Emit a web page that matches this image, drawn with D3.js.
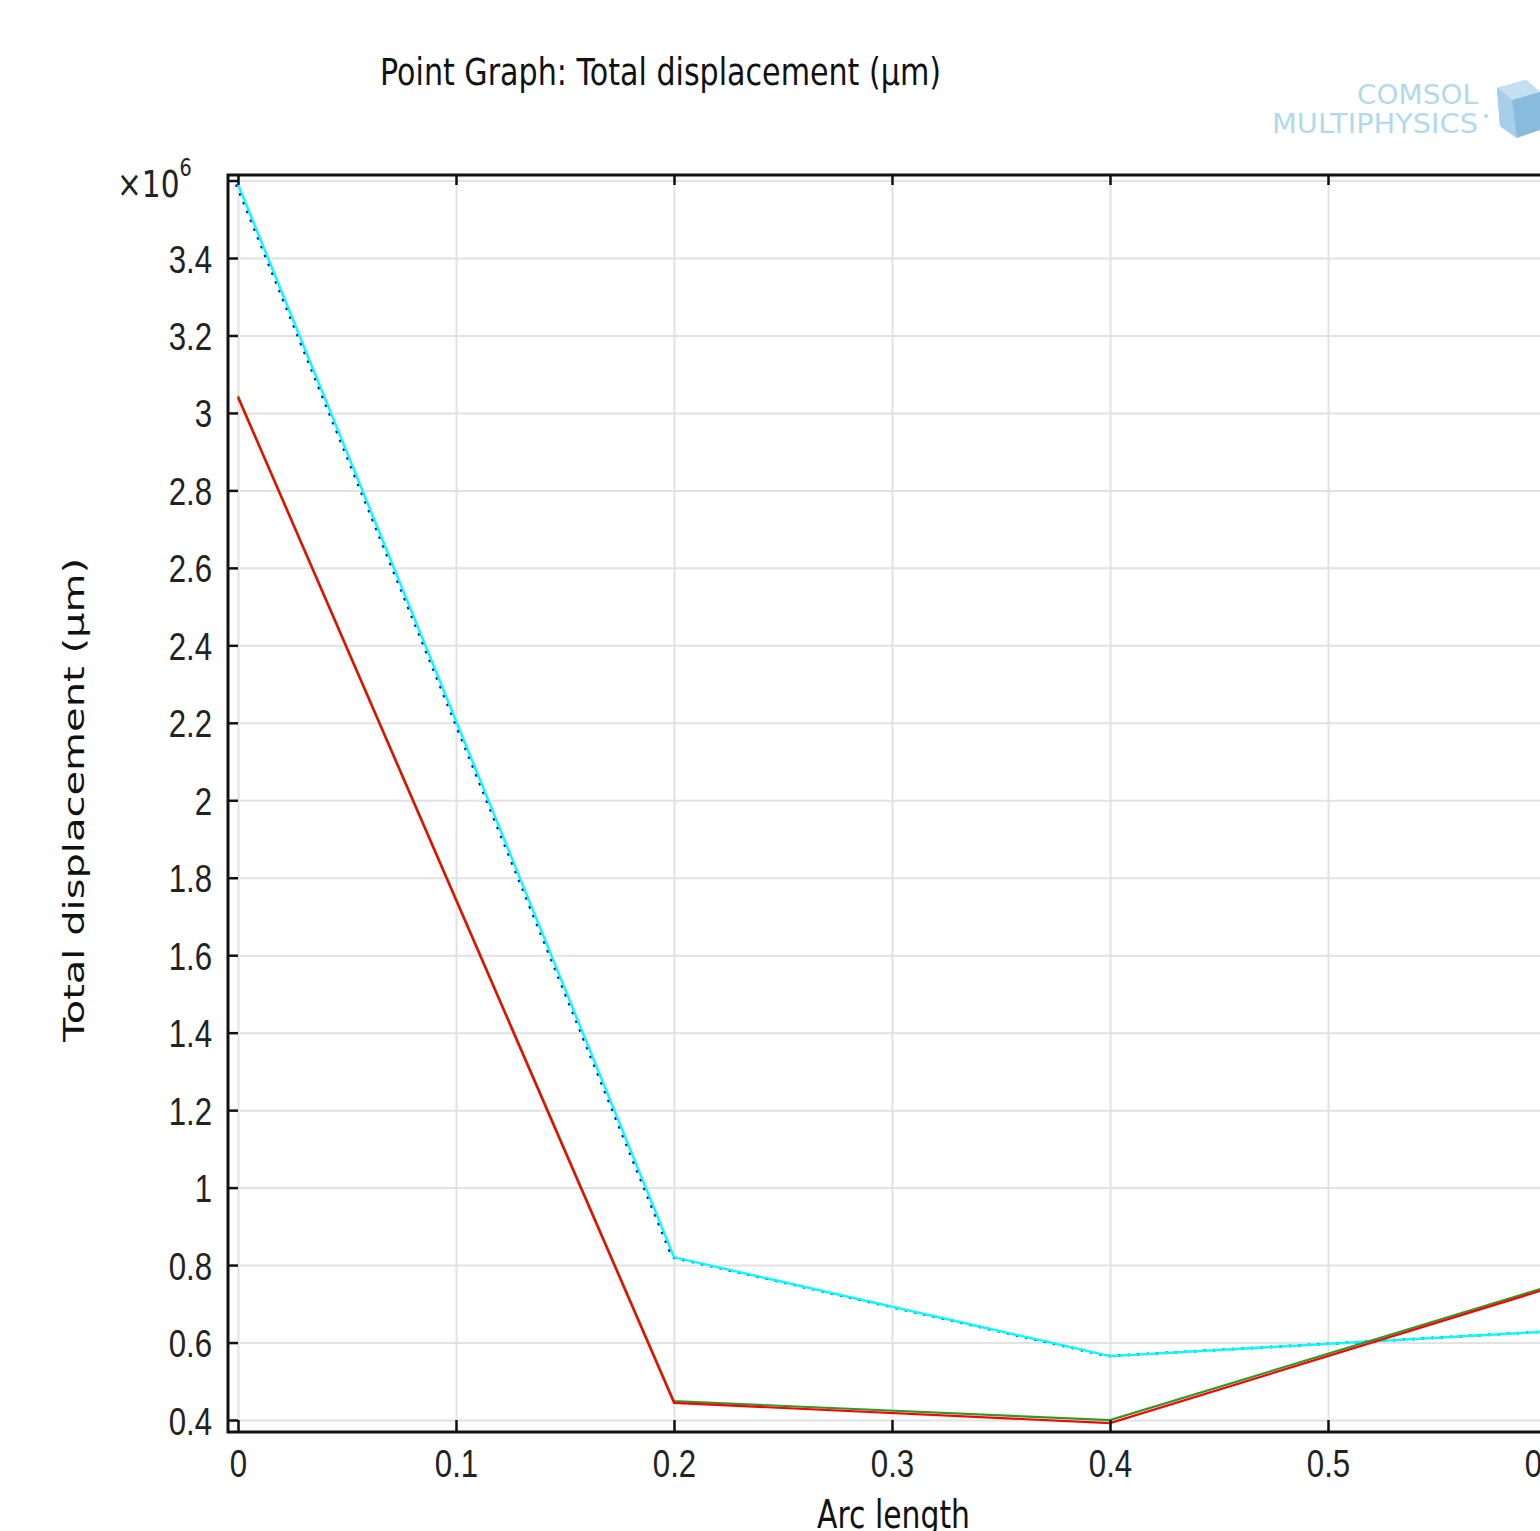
<!DOCTYPE html>
<html lang="en">
<head>
<meta charset="utf-8">
<title>Point Graph: Total displacement</title>
<style>
  body { margin: 0; background: #fff; }
  svg { display: block; font-family: "DejaVu Sans", sans-serif; }
</style>
<script src="https://d3js.org/d3.v7.min.js"></script>
</head>
<body>
<script>
// arc length positions and the four series (values in 1e6 µm)
let arcLength = [0, 0.2, 0.4, 0.6]
let cyanVals = [3.59, 0.82, 0.565, 0.628]
let blueVals = [3.59, 0.82, 0.565, 0.628]
let greenVals = [3.04, 0.445, 0.396, 0.739]
let redVals = [3.04, 0.444, 0.392, 0.738]

let xTicks = [0, 0.1, 0.2, 0.3, 0.4, 0.5, 0.6]
let xTickLabels = ["0", "0.1", "0.2", "0.3", "0.4", "0.5", "0.6"]
let yTicks = [0.4, 0.6, 0.8, 1, 1.2, 1.4, 1.6, 1.8, 2, 2.2, 2.4, 2.6, 2.8, 3, 3.2, 3.4, 3.6]
let yTickLabels = ["0.4", "0.6", "0.8", "1", "1.2", "1.4", "1.6", "1.8", "2", "2.2", "2.4", "2.6", "2.8", "3", "3.2", "3.4", ""]

let width = 1540
let height = 1531
let frame = {left: 228, top: 175, right: 1556, bottom: 1432}
let squeeze = 0.8   // the original text is narrow and tall

let svg = d3.select("body").append("svg")
    .attr("width", width)
    .attr("height", height)

let x = d3.scaleLinear().domain([0, 0.6]).range([238, 1546])
let y = d3.scaleLinear().domain([0.4, 3.4]).range([1420, 258])

// grid
svg.append("g")
    .attr("transform", `translate(0,${frame.bottom})`)
    .call(d3.axisBottom(x).tickValues(xTicks).tickSize(-(frame.bottom - frame.top)).tickFormat(""))
    .call(g => g.select(".domain").remove())
    .selectAll("line").attr("stroke", "#e2e2e2").attr("stroke-width", 2)

svg.append("g")
    .attr("transform", `translate(${frame.left},0)`)
    .call(d3.axisLeft(y).tickValues(yTicks).tickSize(-(frame.right - frame.left)).tickFormat(""))
    .call(g => g.select(".domain").remove())
    .selectAll("line").attr("stroke", "#e2e2e2").attr("stroke-width", 2)

// lines
svg.append("clipPath").attr("id", "plot")
    .append("rect")
    .attr("x", frame.left).attr("y", frame.top)
    .attr("width", frame.right - frame.left).attr("height", frame.bottom - frame.top)

let plot = svg.append("g").attr("clip-path", "url(#plot)")

let line = vals => d3.line()
    .x((d, i) => x(arcLength[i]))
    .y(d => y(d))(vals)

plot.append("path")
    .attr("d", line(blueVals))
    .attr("transform", "translate(-1.8,0)")
    .attr("fill", "none")
    .attr("stroke", "#0000ff")
    .attr("stroke-width", 2.6)
    .attr("stroke-dasharray", "2.5,7")

plot.append("path")
    .attr("d", line(cyanVals))
    .attr("fill", "none")
    .attr("stroke", "#00ffff")
    .attr("stroke-width", 2.4)

plot.append("path")
    .attr("d", line(greenVals))
    .attr("transform", "translate(0,-1.4)")
    .attr("fill", "none")
    .attr("stroke", "#2e9a2e")
    .attr("stroke-width", 2.2)

plot.append("path")
    .attr("d", line(redVals))
    .attr("fill", "none")
    .attr("stroke", "#ff0000")
    .attr("stroke-width", 2.2)

// frame
svg.append("rect")
    .attr("x", frame.left).attr("y", frame.top)
    .attr("width", frame.right - frame.left).attr("height", frame.bottom - frame.top)
    .attr("fill", "none")
    .attr("stroke", "#111")
    .attr("stroke-width", 3)

// axes with inward ticks
let bottomAxis = svg.append("g")
    .attr("transform", `translate(0,${frame.bottom})`)
    .call(d3.axisBottom(x).tickValues(xTicks).tickSize(-12).tickFormat((d, i) => xTickLabels[i]))
bottomAxis.select(".domain").remove()
bottomAxis.selectAll("line").attr("stroke", "#111").attr("stroke-width", 2.5)
bottomAxis.selectAll("text")
    .attr("y", 45).attr("dy", null)
    .attr("transform", `scale(${squeeze},1)`)
    .attr("font-size", 39)
    .attr("fill", "#222")

let topAxis = svg.append("g")
    .attr("transform", `translate(0,${frame.top})`)
    .call(d3.axisTop(x).tickValues(xTicks).tickSize(-10).tickFormat(""))
topAxis.select(".domain").remove()
topAxis.selectAll("line").attr("stroke", "#111").attr("stroke-width", 2.5)

let leftAxis = svg.append("g")
    .attr("transform", `translate(${frame.left},0)`)
    .call(d3.axisLeft(y).tickValues(yTicks).tickSize(-10).tickFormat((d, i) => yTickLabels[i]))
leftAxis.select(".domain").remove()
leftAxis.selectAll("line").attr("stroke", "#111").attr("stroke-width", 2.5)
leftAxis.selectAll("text")
    .attr("x", -16 / squeeze).attr("dy", null).attr("y", 14)
    .attr("transform", `scale(${squeeze},1)`)
    .attr("font-size", 39)
    .attr("fill", "#222")

// exponent above the y axis
let expo = svg.append("text")
    .attr("transform", `translate(117,197) scale(0.8,1)`)
    .attr("fill", "#222")
expo.append("tspan").attr("font-size", 37).text("×10")
expo.append("tspan").attr("font-size", 24).attr("dy", -21).text("6")

// titles
svg.append("text")
    .attr("x", 380).attr("y", 85)
    .attr("font-size", 37)
    .attr("textLength", 561)
    .attr("lengthAdjust", "spacingAndGlyphs")
    .attr("fill", "#111")
    .text("Point Graph: Total displacement (µm)")

svg.append("text")
    .attr("transform", "translate(84,800) rotate(-90)")
    .attr("text-anchor", "middle")
    .attr("font-size", 29)
    .attr("textLength", 484)
    .attr("lengthAdjust", "spacingAndGlyphs")
    .attr("fill", "#111")
    .text("Total displacement (µm)")

svg.append("text")
    .attr("x", 817).attr("y", 1528)
    .attr("font-size", 39)
    .attr("textLength", 153)
    .attr("lengthAdjust", "spacingAndGlyphs")
    .attr("fill", "#111")
    .text("Arc length")

// faded logo
let logo = svg.append("g").attr("opacity", 0.6)
logo.append("text")
    .attr("x", 1357).attr("y", 104)
    .attr("font-size", 26)
    .attr("textLength", 121)
    .attr("lengthAdjust", "spacingAndGlyphs")
    .attr("fill", "#7fbfe3")
    .text("COMSOL")
logo.append("text")
    .attr("x", 1272).attr("y", 133)
    .attr("font-size", 26)
    .attr("textLength", 206)
    .attr("lengthAdjust", "spacingAndGlyphs")
    .attr("fill", "#7fbfe3")
    .text("MULTIPHYSICS")
logo.append("circle").attr("cx", 1486).attr("cy", 116).attr("r", 2).attr("fill", "#7fbfe3")
logo.append("path")
    .attr("d", "M1497,88 L1526,80 L1540,92 L1540,130 L1517,138 L1500,126 Z")
    .attr("fill", "#3b8fca")
logo.append("path")
    .attr("d", "M1497,88 L1526,80 L1540,92 L1512,100 Z")
    .attr("fill", "#9fcdea")
logo.append("path")
    .attr("d", "M1497,88 L1512,100 L1517,138 L1500,126 Z")
    .attr("fill", "#6fb0dc")
</script>
</body>
</html>
